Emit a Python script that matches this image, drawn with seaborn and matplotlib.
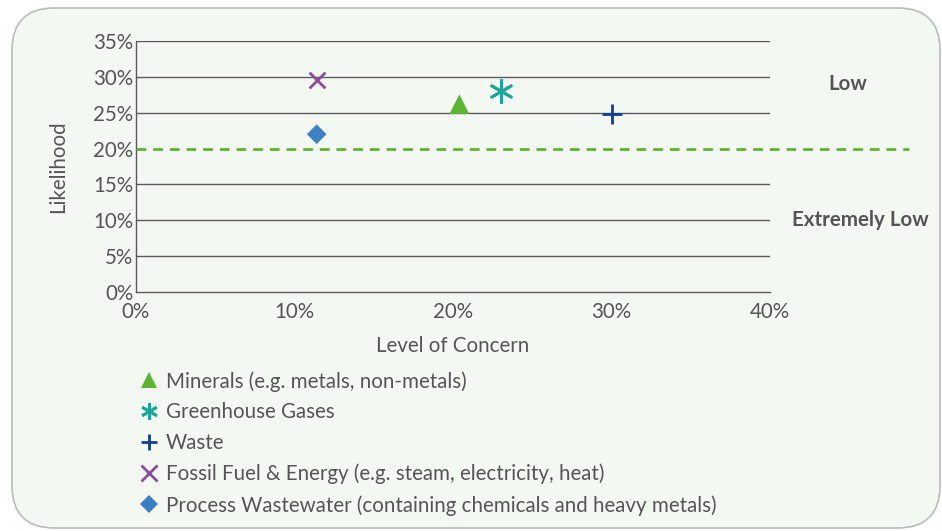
import matplotlib
matplotlib.use("Agg")
import matplotlib.pyplot as plt
import seaborn as sns
import pandas as pd
from matplotlib.patches import FancyBboxPatch
from matplotlib.lines import Line2D
from matplotlib.ticker import PercentFormatter

categories = ["Minerals (e.g. metals, non-metals)", "Greenhouse Gases", "Waste",
              "Fossil Fuel & Energy (e.g. steam, electricity, heat)",
              "Process Wastewater (containing chemicals and heavy metals)"]
concern = [20.4, 23.0, 30.0, 11.4, 11.4]
likelihood = [26.2, 28.0, 24.8, 29.6, 22.0]
colors = ["#5cb531", "#17a89b", "#0d3f94", "#8b4c9e", "#3d80c6"]
markers = ["^", (6, 2, 0), "+", "x", "D"]
sizes = [200, 260, 200, 130, 100]
y_ticks = [0, 5, 10, 15, 20, 25, 30, 35]
x_ticks = [0, 10, 20, 30, 40]
threshold = 20
zone_labels = ["Low", "Extremely Low"]
zone_y = [29.0, 10.0]

df = pd.DataFrame({"cat": categories, "x": concern, "y": likelihood})

sns.set_theme(style="white")
plt.rcParams["font.family"] = ["Lato", "DejaVu Sans"]
txt = "#555555"
fs = 14.8

fig = plt.figure(figsize=(9.42, 5.31), dpi=100)
fig.patch.set_facecolor("white")
bg = FancyBboxPatch((12/942, (531-528)/531), (940-12)/942, (528-8)/531,
                    boxstyle="round,pad=0,rounding_size=0.045", transform=fig.transFigure,
                    facecolor="#f3f8f3", edgecolor="#b8bcb8", linewidth=1.2,
                    mutation_aspect=942/531, zorder=-10)
fig.patches.append(bg)

ax = fig.add_axes([136/942, 1-292/531, (770-136)/942, (292-41)/531])
ax.set_zorder(1)
ax.set_facecolor("none")
ax.set_xlim(0, 40)
ax.set_ylim(0, 35)
ax.set_yticks(y_ticks)
ax.set_xticks(x_ticks)
ax.yaxis.set_major_formatter(PercentFormatter(decimals=0))
ax.xaxis.set_major_formatter(PercentFormatter(decimals=0))
for yv in y_ticks[1:]:
    if yv != threshold:
        ax.axhline(yv, color="#5a5a5a", linewidth=1.0, zorder=1)
for s in ["top", "right"]:
    ax.spines[s].set_visible(False)
for s in ["left", "bottom"]:
    ax.spines[s].set_color("#5a5a5a")
    ax.spines[s].set_linewidth(1.0)
ax.tick_params(axis="both", colors=txt, labelsize=fs, length=0)
ax.tick_params(axis="y", pad=2)
ax.tick_params(axis="x", pad=7)

handles = []
for c, col, mk, sz in zip(categories, colors, markers, sizes):
    sub = df[df["cat"] == c]
    lined = mk in ["+", "x"] or isinstance(mk, tuple)
    sns.scatterplot(data=sub, x="x", y="y", ax=ax, color=col, marker=mk, s=sz,
                    linewidth=2 if lined else 0,
                    edgecolor=col if lined else "none",
                    legend=False, zorder=4, clip_on=False)
    handles.append(Line2D([], [], linestyle="none", marker=mk, color=col,
                          markersize=12 if mk != "D" else 9,
                          markeredgewidth=2 if lined else 0,
                          label=c))

ax.plot([0, 48.8], [threshold, threshold], linestyle=(0, (3.5, 2.5)), color="#5cb531",
        linewidth=2, clip_on=False, zorder=3)

ax.text(44.9, zone_y[0], zone_labels[0], ha="center", va="center", fontsize=fs,
        fontweight="bold", color=txt)
ax.text(45.7, zone_y[1], zone_labels[1], ha="center", va="center", fontsize=fs,
        fontweight="bold", color=txt)

ax.set_xlabel("Level of Concern", color=txt, fontsize=fs, labelpad=10)
ax.set_ylabel("Likelihood", color=txt, fontsize=fs, labelpad=18)

leg = fig.legend(handles=handles, loc="upper left", bbox_to_anchor=(139/942, 1-371/531),
                 frameon=False, fontsize=fs, handlelength=1.0, handletextpad=0.3,
                 labelspacing=0.52, borderaxespad=0, borderpad=0)
for t in leg.get_texts():
    t.set_color(txt)

fig.savefig("out.png", dpi=100, facecolor="white")
